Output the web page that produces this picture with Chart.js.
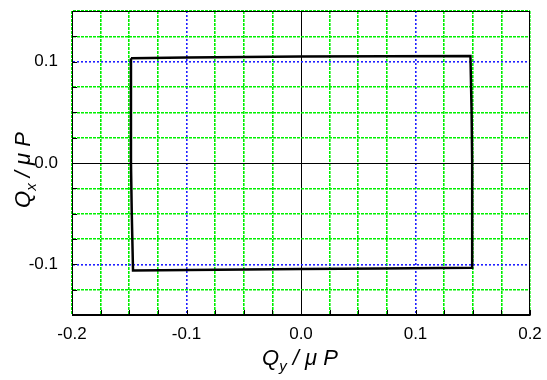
<!DOCTYPE html>
<html>
<head>
<meta charset="utf-8">
<script src="https://cdn.jsdelivr.net/npm/chart.js@4.4.0/dist/chart.umd.min.js"></script>
<style>
  html, body { margin: 0; padding: 0; background: #fff; }
  #wrap { width: 547px; height: 380px; }
</style>
</head>
<body>
<div id="wrap"><canvas id="myChart" width="547" height="380"></canvas></div>
<script>
// contorno medido (Qy no eixo x, Qx no eixo y)
const qy = [-0.1485, -0.10, 0.0, 0.148, 0.1490, 0.1495, 0.1495, 0.07, 0.0, -0.1467, -0.1478, -0.1485, -0.1485];
const qx = [0.1034, 0.1040, 0.1050, 0.1057, 0.05, 0.0, -0.1033, -0.1040, -0.1045, -0.106, -0.05, 0.0, 0.1034];

const xTicks = [-0.2, -0.1, 0.0, 0.1, 0.2];
const yTicks = [-0.1, 0.0, 0.1];

const FONT = "'Liberation Sans', Arial, sans-serif";

const pontos = qy.map((v, i) => ({ x: v, y: qx[i] }));

function arred(v) {
  return Math.round(v * 1000);
}

function corGrade(ctx) {
  const v = arred(ctx.tick.value);
  if (v === 0) return "#000000";
  if (v === 100 || v === -100) return "#2020ff";
  return "#00f000";
}

function larguraGrade(ctx) {
  return arred(ctx.tick.value) === 0 ? 1 : 1.6;
}

function tracoGrade(ctx) {
  const v = arred(ctx.tick.value);
  if (v === 0) return [];
  if (v === 100 || v === -100) return [2, 2];
  return [3, 1];
}

function rotulo(lista) {
  return function (value) {
    const achou = lista.find((t) => arred(t) === arred(value));
    if (achou === undefined) return "";
    return achou.toFixed(1);
  };
}

function semPadding(s) {
  s.paddingLeft = 0;
  s.paddingRight = 0;
  s.paddingTop = 0;
  s.paddingBottom = 0;
}

// moldura, marcas internas e titulos com subscrito
const extras = {
  id: "extras",
  afterDraw(chart) {
    const { ctx, chartArea } = chart;
    const L = chartArea.left, R = chartArea.right, T = chartArea.top, B = chartArea.bottom;
    ctx.save();
    ctx.strokeStyle = "#000";
    ctx.lineWidth = 1;
    ctx.strokeRect(Math.round(L) + 0.5, Math.round(T) + 0.5, Math.round(R - L) - 1, Math.round(B - T) - 1);

    ctx.beginPath();
    chart.scales.x.ticks.forEach((t) => {
      const px = Math.round(chart.scales.x.getPixelForValue(t.value)) + 0.5;
      ctx.moveTo(px, B);
      ctx.lineTo(px, B - 5);
    });
    chart.scales.y.ticks.forEach((t) => {
      const py = Math.round(chart.scales.y.getPixelForValue(t.value)) + 0.5;
      ctx.moveTo(L, py);
      ctx.lineTo(L + 5, py);
    });
    ctx.stroke();

    function titulo(sub, cx, cy, rot) {
      ctx.save();
      ctx.translate(cx, cy);
      if (rot) ctx.rotate(-Math.PI / 2);
      const big = "italic 22px " + FONT;
      const small = "italic 15px " + FONT;
      ctx.font = big;
      const wQ = ctx.measureText("Q").width;
      const resto = " / \u03bc P";
      const wR = ctx.measureText(resto).width;
      ctx.font = small;
      const wS = ctx.measureText(sub).width;
      const total = wQ + wS + wR;
      let x = -total / 2;
      ctx.fillStyle = "#000";
      ctx.textBaseline = "alphabetic";
      ctx.font = big;
      ctx.fillText("Q", x, 8);
      x += wQ;
      ctx.font = small;
      ctx.fillText(sub, x, 14);
      x += wS;
      ctx.font = big;
      ctx.fillText(resto, x, 8);
      ctx.restore();
    }
    titulo("y", 300, 357, false);
    titulo("x", 22, 170, true);
    ctx.restore();
  },
};

const ctx = document.getElementById("myChart").getContext("2d");
const myChart = new Chart(ctx, {
  type: "scatter",
  data: {
    datasets: [
      {
        data: pontos,
        showLine: true,
        borderColor: "#000000",
        borderWidth: 2.5,
        pointRadius: 0,
        tension: 0,
        fill: false,
      },
    ],
  },
  options: {
    responsive: false,
    animation: false,
    layout: { padding: { top: 11, right: 17, left: 0, bottom: 0 } },
    plugins: { legend: { display: false }, tooltip: { enabled: false } },
    scales: {
      x: {
        type: "linear",
        min: -0.2,
        max: 0.2,
        afterFit: (s) => { s.height = 65; semPadding(s); },
        ticks: {
          stepSize: 0.025,
          autoSkip: false,
          maxRotation: 0,
          padding: 9,
          color: "#000",
          font: { family: FONT, size: 17 },
          callback: rotulo(xTicks),
        },
        grid: {
          color: corGrade,
          lineWidth: larguraGrade,
          drawTicks: false,
        },
        border: { color: "#000", width: 1, dash: tracoGrade },
      },
      y: {
        type: "linear",
        min: -0.15,
        max: 0.15,
        afterFit: (s) => { s.width = 72; semPadding(s); },
        ticks: {
          stepSize: 0.025,
          autoSkip: false,
          padding: 14,
          color: "#000",
          font: { family: FONT, size: 17 },
          callback: rotulo(yTicks),
        },
        grid: {
          color: corGrade,
          lineWidth: larguraGrade,
          drawTicks: false,
        },
        border: { color: "#000", width: 1, dash: tracoGrade },
      },
    },
  },
  plugins: [extras],
});
</script>
</body>
</html>
